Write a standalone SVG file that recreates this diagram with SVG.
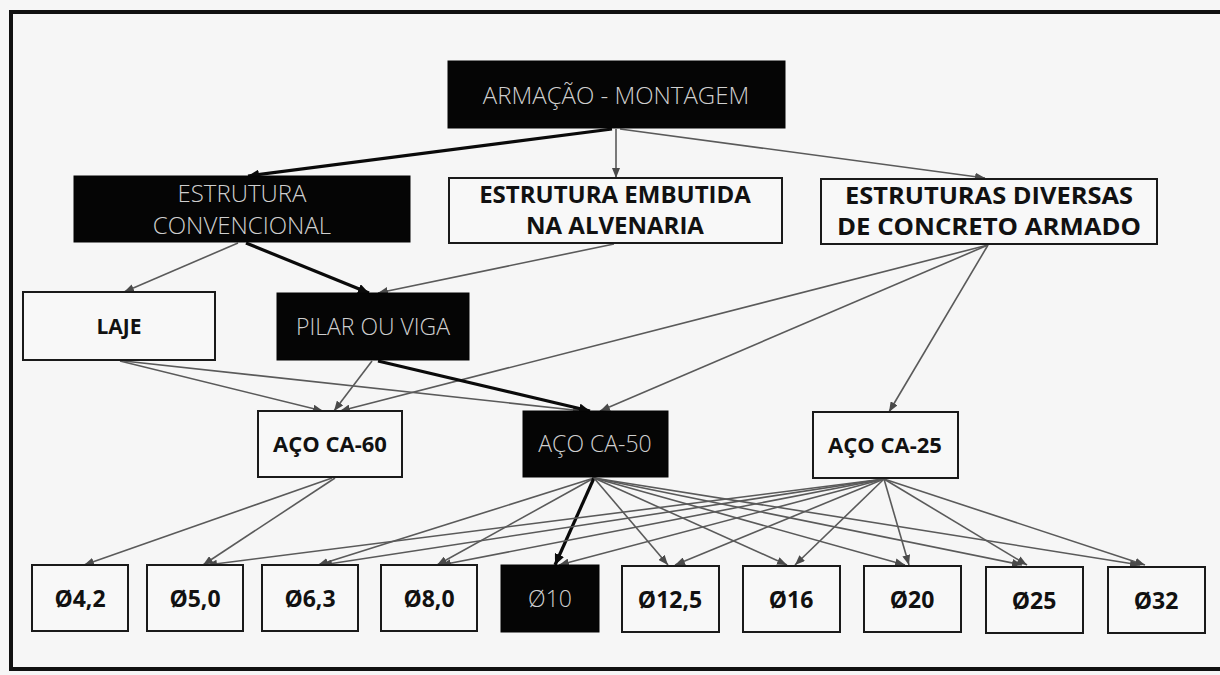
<svg xmlns="http://www.w3.org/2000/svg" width="1220" height="675" viewBox="0 0 1220 675">
<style>
.bg{fill:#f6f6f6}
.frame{fill:none;stroke:#111;stroke-width:4}
.wbox{fill:#f8f8f8;stroke:#1a1a1a;stroke-width:2}
.bbox{fill:#050505;stroke:#050505;stroke-width:1}
.lt{font-family:"Open Sans","Lato",sans-serif;font-weight:300;fill:#cfcfcf;text-anchor:middle}
.bd{font-family:"Open Sans","Lato",sans-serif;font-weight:700;fill:#111;text-anchor:middle}
.thin{stroke:#5a5a5a;stroke-width:1.6;fill:none}
.thick{stroke:#0a0a0a;stroke-width:3.2;fill:none}
</style>
<defs>
<marker id="ah" markerUnits="userSpaceOnUse" markerWidth="10" markerHeight="8" refX="10" refY="4" orient="auto">
<path d="M0,0 L10,4 L0,8 z" fill="#4a4a4a"/>
</marker>
<marker id="ahk" markerUnits="userSpaceOnUse" markerWidth="11" markerHeight="10" refX="11" refY="5" orient="auto">
<path d="M0,0 L11,5 L0,10 z" fill="#0a0a0a"/>
</marker>
</defs>
<rect class="bg" x="0" y="0" width="1220" height="675"/>
<path class="frame" d="M1220,12 H11 V669 H1220"/>

<g id="connectors">
<line class="thick" x1="612" y1="129" x2="248" y2="176" marker-end="url(#ahk)"/>
<line class="thin" x1="616" y1="129" x2="616" y2="178" marker-end="url(#ah)"/>
<line class="thin" x1="620" y1="129" x2="985" y2="178" marker-end="url(#ah)"/>
<line class="thin" x1="238" y1="243" x2="124" y2="292" marker-end="url(#ah)"/>
<line class="thick" x1="246" y1="243" x2="369" y2="293" marker-end="url(#ahk)"/>
<line class="thin" x1="614" y1="244" x2="378" y2="293" marker-end="url(#ah)"/>
<line class="thin" x1="988" y1="245" x2="340" y2="411" marker-end="url(#ah)"/>
<line class="thin" x1="988" y1="245" x2="600" y2="411" marker-end="url(#ah)"/>
<line class="thin" x1="988" y1="245" x2="889" y2="412" marker-end="url(#ah)"/>
<line class="thin" x1="120" y1="361" x2="323" y2="411" marker-end="url(#ah)"/>
<line class="thin" x1="124" y1="361" x2="583" y2="411" marker-end="url(#ah)"/>
<line class="thin" x1="372" y1="361" x2="334" y2="411" marker-end="url(#ah)"/>
<line class="thick" x1="378" y1="361" x2="590" y2="411" marker-end="url(#ahk)"/>
<line class="thin" x1="332" y1="478" x2="84" y2="565" marker-end="url(#ah)"/>
<line class="thin" x1="335" y1="478" x2="203" y2="565" marker-end="url(#ah)"/>
<line class="thin" x1="594" y1="478" x2="318" y2="565" marker-end="url(#ah)"/>
<line class="thin" x1="594" y1="478" x2="437" y2="565" marker-end="url(#ah)"/>
<line class="thick" x1="594" y1="478" x2="555" y2="565" marker-end="url(#ahk)"/>
<line class="thin" x1="594" y1="478" x2="668" y2="565" marker-end="url(#ah)"/>
<line class="thin" x1="594" y1="478" x2="787" y2="565" marker-end="url(#ah)"/>
<line class="thin" x1="594" y1="478" x2="905" y2="565" marker-end="url(#ah)"/>
<line class="thin" x1="594" y1="478" x2="1022" y2="565" marker-end="url(#ah)"/>
<line class="thin" x1="594" y1="478" x2="1140" y2="565" marker-end="url(#ah)"/>
<line class="thin" x1="884" y1="479" x2="207" y2="565" marker-end="url(#ah)"/>
<line class="thin" x1="884" y1="479" x2="322" y2="565" marker-end="url(#ah)"/>
<line class="thin" x1="884" y1="479" x2="441" y2="565" marker-end="url(#ah)"/>
<line class="thin" x1="884" y1="479" x2="559" y2="565" marker-end="url(#ah)"/>
<line class="thin" x1="884" y1="479" x2="675" y2="565" marker-end="url(#ah)"/>
<line class="thin" x1="884" y1="479" x2="795" y2="565" marker-end="url(#ah)"/>
<line class="thin" x1="884" y1="479" x2="909" y2="565" marker-end="url(#ah)"/>
<line class="thin" x1="884" y1="479" x2="1027" y2="565" marker-end="url(#ah)"/>
<line class="thin" x1="884" y1="479" x2="1145" y2="565" marker-end="url(#ah)"/>
</g>

<g id="armacao-montagem">
<rect class="bbox" x="448" y="61" width="337" height="67"/>
<text class="lt" x="616" y="104" font-size="24">ARMAÇÃO - MONTAGEM</text>
</g>
<g id="estrutura-convencional">
<rect class="bbox" x="74" y="176" width="336" height="66"/>
<text class="lt" x="242" y="202" font-size="24">ESTRUTURA</text>
<text class="lt" x="242" y="234" font-size="24">CONVENCIONAL</text>
</g>
<g id="estrutura-embutida">
<rect class="wbox" x="449" y="178" width="333" height="65"/>
<text class="bd" x="615" y="203" font-size="24">ESTRUTURA EMBUTIDA</text>
<text class="bd" x="615" y="234" font-size="24">NA ALVENARIA</text>
</g>
<g id="estruturas-diversas">
<rect class="wbox" x="821" y="179" width="336" height="65"/>
<text class="bd" x="989" y="204" font-size="24" textLength="288" lengthAdjust="spacingAndGlyphs">ESTRUTURAS DIVERSAS</text>
<text class="bd" x="989" y="235" font-size="24" textLength="304" lengthAdjust="spacingAndGlyphs">DE CONCRETO ARMADO</text>
</g>
<g id="laje">
<rect class="wbox" x="23" y="292" width="192" height="68"/>
<text class="bd" x="119" y="334" font-size="21">LAJE</text>
</g>
<g id="pilar-ou-viga">
<rect class="bbox" x="277" y="293" width="192" height="67"/>
<text class="lt" x="373" y="335" font-size="23">PILAR OU VIGA</text>
</g>
<g id="aco-ca-60">
<rect class="wbox" x="258" y="411" width="144" height="66"/>
<text class="bd" x="330" y="452" font-size="22">AÇO CA-60</text>
</g>
<g id="aco-ca-50">
<rect class="bbox" x="523" y="411" width="145" height="66"/>
<text class="lt" x="595" y="452" font-size="23">AÇO CA-50</text>
</g>
<g id="aco-ca-25">
<rect class="wbox" x="813" y="412" width="145" height="66"/>
<text class="bd" x="885" y="453" font-size="22">AÇO CA-25</text>
</g>
<g id="d4-2">
<rect class="wbox" x="32" y="565" width="96" height="66"/>
<text class="bd" x="80" y="607" font-size="23">Ø4,2</text>
</g>
<g id="d5-0">
<rect class="wbox" x="147" y="565" width="96" height="66"/>
<text class="bd" x="195" y="607" font-size="23">Ø5,0</text>
</g>
<g id="d6-3">
<rect class="wbox" x="262" y="565" width="96" height="66"/>
<text class="bd" x="310" y="607" font-size="23">Ø6,3</text>
</g>
<g id="d8-0">
<rect class="wbox" x="381" y="565" width="96" height="66"/>
<text class="bd" x="429" y="607" font-size="23">Ø8,0</text>
</g>
<g id="d10">
<rect class="bbox" x="501" y="565" width="98" height="67"/>
<text class="lt" x="550" y="607" font-size="23">Ø10</text>
</g>
<g id="d12-5">
<rect class="wbox" x="622" y="566" width="97" height="66"/>
<text class="bd" x="670" y="608" font-size="23">Ø12,5</text>
</g>
<g id="d16">
<rect class="wbox" x="743" y="566" width="97" height="66"/>
<text class="bd" x="791" y="608" font-size="23">Ø16</text>
</g>
<g id="d20">
<rect class="wbox" x="864" y="566" width="97" height="66"/>
<text class="bd" x="912" y="608" font-size="23">Ø20</text>
</g>
<g id="d25">
<rect class="wbox" x="986" y="567" width="97" height="66"/>
<text class="bd" x="1034" y="609" font-size="23">Ø25</text>
</g>
<g id="d32">
<rect class="wbox" x="1108" y="567" width="97" height="66"/>
<text class="bd" x="1156" y="609" font-size="23">Ø32</text>
</g>
</svg>
